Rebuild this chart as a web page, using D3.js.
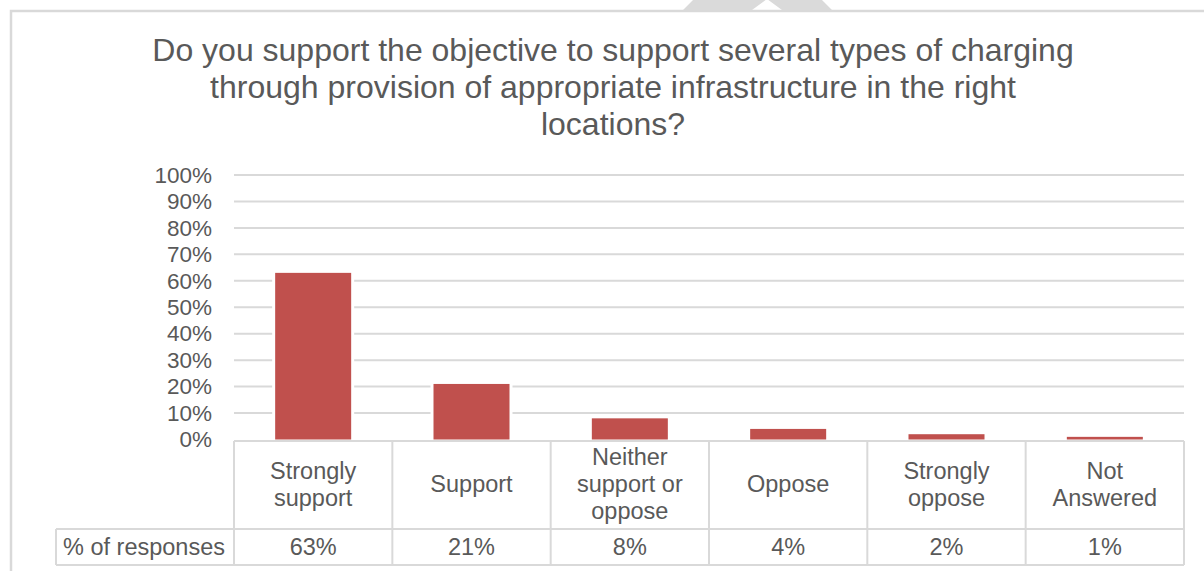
<!DOCTYPE html>
<html>
<head>
<meta charset="utf-8">
<script src="https://cdn.jsdelivr.net/npm/d3@7"></script>
<style>
  html, body { margin: 0; padding: 0; background: #ffffff; }
  svg { display: block; font-family: "Liberation Sans", Arial, sans-serif; }
</style>
</head>
<body>
<svg id="chart" width="1204" height="571"></svg>
<script>
// Survey question and answers
const titleLines = [
  "Do you support the objective to support several types of charging",
  "through provision of appropriate infrastructure in the right",
  "locations?"
];
const categories = ["Strongly support", "Support", "Neither support or oppose", "Oppose", "Strongly oppose", "Not Answered"];
const categoryLines = [["Strongly", "support"], ["Support"], ["Neither", "support or", "oppose"], ["Oppose"], ["Strongly", "oppose"], ["Not", "Answered"]];
const responses = [63, 21, 8, 4, 2, 1];
const rowLabel = "% of responses";
const yTicks = [0, 10, 20, 30, 40, 50, 60, 70, 80, 90, 100];

const svg = d3.select("#chart");
const textColor = "#595959";
const lineColor = "#d9d9d9";
const barColor = "#c0504d";

// Layout
const plotLeft = 234, plotRight = 1184, plotTop = 175, plotBottom = 439.5;
const tableTop = 441, headerBottom = 529, tableBottom = 565, labelLeft = 56;

const x = d3.scaleBand().domain(categories).range([plotLeft, plotRight]).paddingInner(0).paddingOuter(0);
const y = d3.scaleLinear().domain([0, 100]).range([plotBottom, plotTop]);
const barW = x.bandwidth() * 0.48;

// Outer frame and the decorative shape above it
svg.append("path")
  .attr("d", "M683,10 L693,0 L762,0 L767,-5 L772,0 L822,0 L832,10 L782,10 L767,-1 L752,10 Z")
  .attr("fill", "#dadada");
svg.append("rect")
  .attr("x", 11).attr("y", 11).attr("width", 1400).attr("height", 800)
  .attr("fill", "none").attr("stroke", lineColor).attr("stroke-width", 2.5);

// Title
svg.append("g").selectAll("text").data(titleLines).join("text")
  .attr("x", 613).attr("y", (d, i) => 61 + i * 37)
  .attr("text-anchor", "middle")
  .attr("font-size", 32).attr("fill", textColor)
  .text(d => d);

// Gridlines
svg.append("g").selectAll("line").data(yTicks.filter(t => t > 0)).join("line")
  .attr("x1", plotLeft).attr("x2", plotRight)
  .attr("y1", d => y(d)).attr("y2", d => y(d))
  .attr("stroke", lineColor).attr("stroke-width", 2);

// Y axis labels
const yAxis = svg.append("g")
  .attr("transform", `translate(${plotLeft},0)`)
  .call(d3.axisLeft(y).tickValues(yTicks).tickSize(0).tickPadding(22).tickFormat(d => d + "%"));
yAxis.select(".domain").remove();
yAxis.selectAll("text")
  .attr("font-size", 22.5).attr("fill", textColor)
  .attr("font-family", "'Liberation Sans', Arial, sans-serif");

// Bars
svg.append("g").selectAll("rect").data(responses).join("rect")
  .attr("x", (d, i) => x(categories[i]) + (x.bandwidth() - barW) / 2)
  .attr("y", d => y(d))
  .attr("width", barW)
  .attr("height", d => y(0) - y(d))
  .attr("fill", barColor)
  .attr("stroke", "#ffffff").attr("stroke-width", 6)
  .style("paint-order", "stroke");

// Data table
const table = svg.append("g").attr("stroke", lineColor).attr("stroke-width", 2);
table.append("line").attr("x1", plotLeft).attr("x2", plotRight).attr("y1", tableTop).attr("y2", tableTop);
table.append("line").attr("x1", labelLeft).attr("x2", plotRight).attr("y1", headerBottom).attr("y2", headerBottom);
table.append("line").attr("x1", labelLeft).attr("x2", plotRight).attr("y1", tableBottom).attr("y2", tableBottom);
table.append("line").attr("x1", labelLeft).attr("x2", labelLeft).attr("y1", headerBottom).attr("y2", tableBottom);
const bounds = categories.map(c => x(c)).concat([plotRight]);
table.selectAll("line.v").data(bounds).join("line").attr("class", "v")
  .attr("x1", d => d).attr("x2", d => d).attr("y1", tableTop).attr("y2", tableBottom);

// Category headers
const headers = svg.append("g").attr("font-size", 23.5).attr("fill", textColor).attr("text-anchor", "middle");
categoryLines.forEach((lines, i) => {
  const cx = x(categories[i]) + x.bandwidth() / 2;
  const mid = 492;
  lines.forEach((ln, j) => {
    headers.append("text")
      .attr("x", cx)
      .attr("y", mid + (j - (lines.length - 1) / 2) * 27)
      .text(ln);
  });
});

// Value row
svg.append("text")
  .attr("x", 63).attr("y", 555)
  .attr("font-size", 23.5).attr("fill", textColor)
  .text(rowLabel);
svg.append("g").selectAll("text").data(responses).join("text")
  .attr("x", (d, i) => x(categories[i]) + x.bandwidth() / 2)
  .attr("y", 555)
  .attr("text-anchor", "middle")
  .attr("font-size", 23.5).attr("fill", textColor)
  .text(d => d + "%");
</script>
</body>
</html>
